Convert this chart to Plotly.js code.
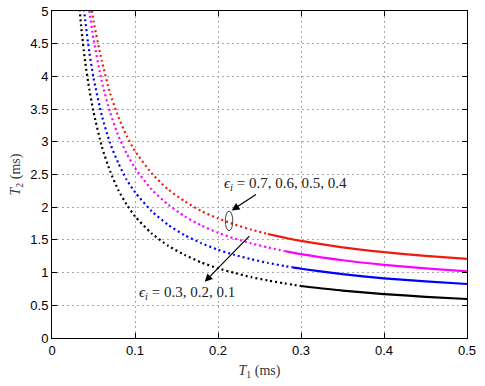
<!DOCTYPE html>
<html>
<head>
<meta charset="utf-8">
<script src="https://cdn.plot.ly/plotly-3.0.1.min.js"></script>
<style>html,body{margin:0;padding:0;background:#fff;}#chart{width:485px;height:386px;}</style>
</head>
<body>
<div id="chart"></div>
<script>
const T1 = [0.03,0.035,0.04,0.045,0.05,0.06,0.07,0.08,0.09,0.1,0.12,0.14,0.16,0.18,0.2,0.22,0.24,0.26,0.28,0.29,0.3,0.35,0.4,0.45,0.5];
const T2_eps07 = [7.67,6.69,5.95,5.30,4.85,4.24,3.74,3.38,3.09,2.86,2.52,2.27,2.09,1.94,1.83,1.735,1.657,1.59,1.534,1.508,1.485,1.386,1.313,1.255,1.21];
const T2_eps06 = [7.21,6.27,5.56,5.01,4.575,3.92,3.45,3.09,2.82,2.60,2.27,2.04,1.86,1.72,1.61,1.52,1.448,1.385,1.33,1.306,1.283,1.189,1.119,1.064,1.02];
const T2_eps05 = [6.32,5.48,4.86,4.37,3.98,3.40,2.98,2.67,2.42,2.23,1.94,1.73,1.57,1.45,1.35,1.27,1.205,1.149,1.101,1.079,1.059,0.976,0.913,0.865,0.826];
const T2_eps04 = [5.56,4.78,4.22,3.80,3.46,2.93,2.55,2.26,2.04,1.86,1.60,1.41,1.27,1.155,1.065,0.995,0.93,0.88,0.835,0.815,0.795,0.725,0.672,0.63,0.596];
const seriesNames = ['ε=0.7','ε=0.6','ε=0.5','ε=0.4'];
const seriesColors = ['#ee1c0e','#ff00ff','#0000ff','#000000'];
const transitionT1 = [0.26,0.28,0.29,0.30];
const xTicks = [0,0.1,0.2,0.3,0.4,0.5];
const yTicks = [0,0.5,1,1.5,2,2.5,3,3.5,4,4.5,5];
const yTickText = ['0','0.5','1','1.5','2','2.5','3','3.5','4','4.5','5'];

const allY = [T2_eps07,T2_eps06,T2_eps05,T2_eps04];
const traces = [];
allY.forEach((ys,k)=>{
  const tr = transitionT1[k];
  const dx=[],dy=[],sx=[],sy=[];
  T1.forEach((x,i)=>{
    if (x <= tr + 1e-9){dx.push(x);dy.push(ys[i]);}
    if (x >= tr - 1e-9){sx.push(x);sy.push(ys[i]);}
  });
  traces.push({x:dx,y:dy,type:'scatter',mode:'lines',name:seriesNames[k],showlegend:false,
    line:{color:seriesColors[k],width:2.2,dash:'2px,3px',shape:'spline',smoothing:0.6},hoverinfo:'skip'});
  traces.push({x:sx,y:sy,type:'scatter',mode:'lines',name:seriesNames[k],showlegend:false,
    line:{color:seriesColors[k],width:2.2,shape:'spline',smoothing:0.6},hoverinfo:'skip'});
});

const axisCommon = {
  showline:true, linecolor:'#000', linewidth:1, mirror:'ticks',
  ticks:'inside', ticklen:5, tickcolor:'#000', tickwidth:1,
  showgrid:true, gridcolor:'#a8a8a8', griddash:'1.5px,3.5px', gridwidth:1,
  zeroline:false, tickfont:{family:'Liberation Sans, Arial, sans-serif', size:13, color:'#000'}
};

const layout = {
  width:485, height:386,
  margin:{l:52, r:18, t:11, b:48},
  paper_bgcolor:'#fff', plot_bgcolor:'#fff',
  xaxis: Object.assign({}, axisCommon, {
    range:[0,0.5], tickvals:xTicks, ticktext:xTicks.map(String),
    title:{text:'<i>T</i><sub>1</sub> (ms)', font:{family:'Liberation Serif, Times New Roman, serif', size:14, color:'#333'}, standoff:8}
  }),
  yaxis: Object.assign({}, axisCommon, {
    range:[0,5], tickvals:yTicks, ticktext:yTickText,
    title:{text:'<i>T</i><sub>2</sub> (ms)', font:{family:'Liberation Serif, Times New Roman, serif', size:14, color:'#333'}, standoff:6}
  }),
  shapes:[
    {type:'circle', xref:'x', yref:'y', x0:0.2088, x1:0.2178, y0:1.64, y1:1.94, line:{color:'#444', width:1}}
  ],
  annotations:[
    {xref:'x', yref:'y', x:0.2165, y:1.95, ax:0.2475, ay:2.21, axref:'x', ayref:'y',
     showarrow:true, arrowhead:2, arrowsize:1.3, arrowwidth:1.2, arrowcolor:'#000', text:''},
    {xref:'x', yref:'y', x:0.184, y:0.86, ax:0.2395, ay:1.58, axref:'x', ayref:'y',
     showarrow:true, arrowhead:2, arrowsize:1.3, arrowwidth:1.2, arrowcolor:'#000', text:''},
    {xref:'x', yref:'y', x:0.281, y:2.355, xanchor:'center', yanchor:'middle', showarrow:false,
     text:'<i>ϵ</i><sub><i>i</i></sub> = 0.7, 0.6, 0.5, 0.4',
     font:{family:'Liberation Serif, Times New Roman, serif', size:15, color:'#222'}},
    {xref:'x', yref:'y', x:0.163, y:0.69, xanchor:'center', yanchor:'middle', showarrow:false,
     text:'<i>ϵ</i><sub><i>i</i></sub> = 0.3, 0.2, 0.1',
     font:{family:'Liberation Serif, Times New Roman, serif', size:15, color:'#222'}}
  ]
};

Plotly.newPlot('chart', traces, layout, {staticPlot:true, displayModeBar:false});
</script>
</body>
</html>
